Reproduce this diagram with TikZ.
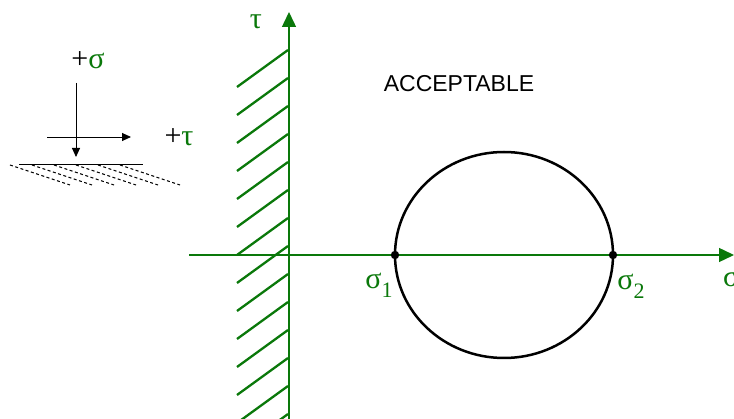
\documentclass[tikz,border=0pt]{standalone}
\usepackage{fontspec}
\setmainfont{Liberation Serif}
\newfontfamily\capsfont{Liberation Sans}
\usetikzlibrary{arrows.meta}
\definecolor{axisgreen}{RGB}{10,120,10}

\begin{document}
\begin{tikzpicture}[x=1pt, y=-1pt,
    axis/.style={axisgreen, line width=1.4pt, -{Triangle[length=15pt, width=14pt]}},
    hatch/.style={axisgreen, line width=2.3pt},
    mohr/.style={black, line width=2.5pt},
    sign/.style={black, line width=0.9pt, -{Triangle[length=9pt, width=8pt]}},
    greek/.style={text=axisgreen, inner sep=0pt, font=\fontsize{30}{34}\selectfont}]
    \useasboundingbox (0,0) rectangle (734,419);
    % sign convention
    \coordinate (vtop) at (76,83);
    \coordinate (vend) at (76,157);
    \coordinate (hleft) at (47,137);
    \coordinate (hend) at (131,137);
    \coordinate (gl) at (19,165);
    \coordinate (gr) at (143,165);
    \draw[sign] (vtop) -- (vend);
    \draw[sign] (hleft) -- (hend);
    \draw[black, line width=1pt] (gl) -- (gr);
    \foreach \x in {10,32,54,76,98,120}
        \draw[black, line width=1pt, dash pattern=on 3pt off 2.5pt] (\x,165) -- ++(60,20);
    \node[inner sep=0pt, font=\fontsize{30}{34}\selectfont] (plussigma) at (88,60) {+\textcolor{axisgreen}{σ}};
    \node[inner sep=0pt, font=\fontsize{30}{34}\selectfont] (plustau) at (179,137) {+\textcolor{axisgreen}{τ}};
    % axes
    \coordinate (o) at (289,255);
    \coordinate (tbot) at (289,419);
    \coordinate (ttop) at (289,12);
    \coordinate (sleft) at (189,255);
    \coordinate (sright) at (734,255);
    \begin{scope}
        \clip (0,0) rectangle (734,419);
        \foreach \k in {0,...,13}
            \draw[hatch] (237,87+28*\k) -- ++(51,-37);
    \end{scope}
    \draw[axis] (tbot) -- (ttop);
    \draw[axis] (sleft) -- (sright);
    \node[greek] (taulabel) at (256,22) {τ};
    \node[greek, anchor=west] (sigmalabel) at (723,279) {σ};
    % circle
    \coordinate (c) at (504,255);
    \coordinate (s1) at (395,255);
    \coordinate (s2) at (613,255);
    \draw[mohr] (c) ellipse [x radius=109pt, y radius=103pt];
    \fill (s1) circle (4.2pt);
    \fill (s2) circle (4.2pt);
    \node[greek] (sigmaone) at (379,285) {σ\raisebox{-0.3em}{\fontsize{22}{24}\selectfont 1}};
    \node[greek] (sigmatwo) at (631,286) {σ\raisebox{-0.3em}{\fontsize{22}{24}\selectfont 2}};
    \node[inner sep=0pt, font=\capsfont\fontsize{23}{28}\selectfont] (acc) at (459,84) {ACCEPTABLE};
\end{tikzpicture}
\end{document}
